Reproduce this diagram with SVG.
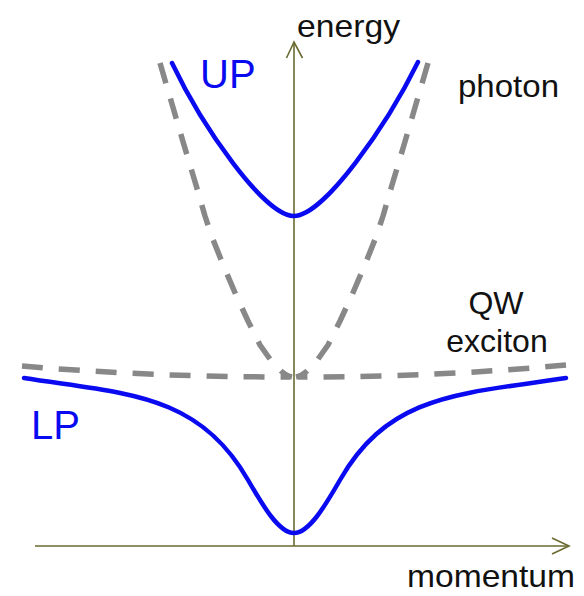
<svg xmlns="http://www.w3.org/2000/svg" width="584" height="596" viewBox="0 0 584 596">
<style>
.axis{fill:none;stroke:#6b6a30;stroke-width:1.6}
.pol{fill:none;stroke:#0a0af0;stroke-width:4.5;stroke-linecap:round}
.bare{fill:none;stroke:#888888;stroke-width:5.5;stroke-dasharray:21 16;stroke-linejoin:round}
.lbl{font-family:"Liberation Sans",Arial,sans-serif;font-size:32px;fill:#111111}
.blbl{font-family:"Liberation Sans",Arial,sans-serif;font-size:40px;fill:#0a0af0}
</style>
<rect width="584" height="596" fill="#ffffff"/>
<g id="axes">
  <line class="axis" x1="35" y1="546" x2="569" y2="546"/>
  <polyline class="axis" points="552,538 569,546 552,554"/>
  <line class="axis" x1="294" y1="546" x2="294" y2="42"/>
  <polyline class="axis" points="286.5,58 294,42 302.5,58"/>
</g>
<g id="photon">
  <path class="bare" d="M160,63 L172,104 L184,145 L196,185 L205,216 L212,237 L224,267 L236,295 L248,321 L260,345 L272,362 L281,371 Q287,376 292,377"/>
  <path class="bare" d="M428,63 L416,104 L404,145 L392,185 L383,216 L376,237 L364,267 L352,295 L340,321 L328,345 L316,362 L307,371 Q301,376 296,377"/>
</g>
<g id="exciton">
  <path class="bare" d="M22,366 Q150,377 290,377"/>
  <path class="bare" d="M566,365 Q438,377 298,377"/>
</g>
<g id="UP">
  <path class="pol" d="M172,63 C202,126 264,216 294,216 C324,216 387,125 418,62"/>
</g>
<g id="LP">
  <path class="pol" d="M24,378 C125,394 198,392.5 248,480 C263,506 279,533 294,533 C309,533 325,506 340,480 C390,392.5 463,394 566,378"/>
</g>
<g id="labels">
  <text class="lbl" x="297" y="37" textLength="103" lengthAdjust="spacingAndGlyphs">energy</text>
  <text class="lbl" x="458" y="97" textLength="101" lengthAdjust="spacingAndGlyphs">photon</text>
  <text class="lbl" x="496" y="314" text-anchor="middle">QW</text>
  <text class="lbl" x="497" y="352" text-anchor="middle">exciton</text>
  <text class="lbl" x="407" y="587" textLength="168" lengthAdjust="spacingAndGlyphs">momentum</text>
  <text class="blbl" x="200" y="88">UP</text>
  <text class="blbl" x="31" y="439">LP</text>
</g>
</svg>
